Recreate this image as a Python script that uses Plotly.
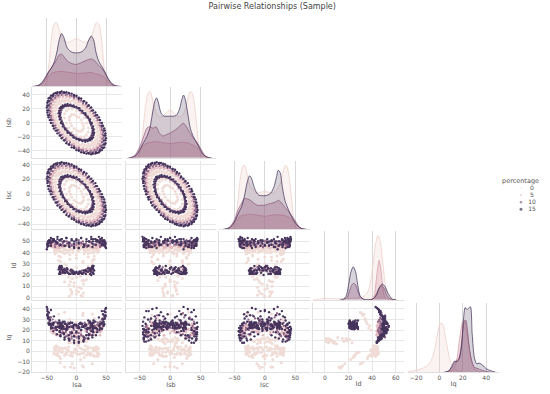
import plotly.graph_objects as go

TITLE = "Pairwise Relationships (Sample)"
VARIABLES = ["Isa", "Isb", "Isc", "Id", "Iq"]
PERCENTAGES = [0, 5, 10, 15]
LEGEND_LABELS = ["0", "5", "10", "15"]
X_TICKS = [[-50, 0, 50], [-50, 0, 50], [-50, 0, 50], [0, 20, 40, 60], [-20, 0, 20, 40]]
Y_TICKS = [[], [-40, -20, 0, 20, 40], [-40, -20, 0, 20, 40], [0, 10, 20, 30, 40, 50], [-20, -10, 0, 10, 20, 30, 40]]

# ---- scatter samples ----
P15_OUTER_A_ISA = [0,8,17,25,32,38,43,47,49,50,49,47,43,38,32,25,17,8,0,-8,-17,-25,-32,-38,-43,-47,-49,-50,-49,-47,-43,-38,-32,-25,-17,-8]
P15_OUTER_A_ISB = [-39,-42,-44,-45,-44,-42,-39,-35,-29,-22,-15,-8,0,8,15,22,29,35,39,42,44,45,44,42,39,35,29,22,15,8,0,-8,-15,-22,-29,-35]
P15_OUTER_A_ISC = [37,33,28,21,15,7,0,-7,-15,-21,-28,-33,-37,-40,-42,-43,-42,-40,-37,-33,-28,-21,-15,-7,0,7,15,21,28,33,37,40,42,43,42,40]
P15_OUTER_A_ID = [52,53,52,54,52,50,47,46,45,44,47,51,53,54,52,52,50,53,51,52,53,52,52,51,46,46,45,43,47,50,53,52,54,52,53,51]
P15_OUTER_A_IQ = [18,20,21,24,28,32,38,38,40,41,37,31,26,24,22,19,15,20,19,17,21,23,27,33,39,37,40,42,38,32,26,27,23,21,20,18]

P15_OUTER_B_ISA = [4,12,20,27,33,39,43,46,47,47,46,43,39,33,27,20,12,4,-4,-12,-20,-27,-33,-39,-43,-46,-47,-47,-46,-43,-39,-33,-27,-20,-12,-4]
P15_OUTER_B_ISB = [-39,-42,-43,-43,-42,-39,-35,-31,-25,-18,-11,-4,4,11,18,25,31,35,39,42,43,43,42,39,35,31,25,18,11,4,-4,-11,-18,-25,-31,-35]
P15_OUTER_B_ISC = [34,29,23,17,11,4,-4,-11,-17,-23,-29,-34,-37,-40,-41,-41,-40,-37,-34,-29,-23,-17,-11,-4,4,11,17,23,29,34,37,40,41,41,40,37]
P15_OUTER_B_ID = [44,45,46,45,47,49,48,50,50,49,50,51,49,50,48,46,45,44,44,46,46,47,48,50,49,50,49,50,51,49,50,49,47,46,45,45]
P15_OUTER_B_IQ = [9,9,12,13,15,20,21,24,25,26,28,27,25,22,15,12,10,8,8,10,11,14,16,19,22,25,26,27,26,24,25,20,15,13,11,10]

P15_OUTER_C_ISA = [4,13,21,28,35,40,45,48,49,49,48,45,40,35,28,21,13,4,-4,-13,-21,-28,-35,-40,-45,-48,-49,-49,-48,-45,-40,-35,-28,-21,-13,-4]
P15_OUTER_C_ISB = [-40,-43,-44,-44,-43,-40,-36,-31,-25,-18,-11,-4,4,11,18,25,31,36,40,43,44,44,43,40,36,31,25,18,11,4,-4,-11,-18,-25,-31,-36]
P15_OUTER_C_ISC = [34,30,24,18,11,4,-4,-11,-18,-24,-30,-34,-38,-41,-42,-42,-41,-38,-34,-30,-24,-18,-11,-4,4,11,18,24,30,34,38,41,42,42,41,38]
P15_OUTER_C_ID = [49,47,50,50,51,52,50,49,49,48,49,47,50,51,52,50,47,48,50,48,50,51,50,51,49,50,48,47,49,51,52,50,51,50,49,48]
P15_OUTER_C_IQ = [14,11,16,18,21,26,30,31,33,34,33,35,22,18,19,15,13,12,14,12,16,18,22,26,30,31,34,35,33,29,22,23,19,17,15,14]

P15_INNER_A_ISA = [0,5,10,15,19,23,26,28,29,30,29,28,26,23,19,15,10,5,0,-5,-10,-15,-19,-23,-26,-28,-29,-30,-29,-28,-26,-23,-19,-15,-10,-5]
P15_INNER_A_ISB = [-23,-25,-26,-27,-26,-25,-23,-21,-17,-14,-9,-5,0,5,9,14,17,21,23,25,26,27,26,25,23,21,17,14,9,5,0,-5,-9,-14,-17,-21]
P15_INNER_A_ISC = [23,20,17,13,9,4,0,-4,-9,-13,-17,-20,-23,-24,-25,-26,-25,-24,-23,-20,-17,-13,-9,-4,0,4,9,13,17,20,23,24,25,26,25,24]
P15_INNER_A_ID = [22,23,21,24,23,25,27,26,28,24,21,22,26,25,23,24,21,22,23,21,24,22,25,24,27,28,21,25,27,22,26,24,22,25,21,23]
P15_INNER_A_IQ = [25,22,26,24,21,28,25,23,29,22,27,24,25,27,22,25,23,26,24,22,27,25,21,28,26,22,29,23,27,24,25,21,26,23,27,24]

P15_INNER_B_ISA = [3,7,12,16,20,23,25,27,28,28,27,25,23,20,16,12,7,3,-3,-7,-12,-16,-20,-23,-25,-27,-28,-28,-27,-25,-23,-20,-16,-12,-7,-3]
P15_INNER_B_ISB = [-23,-24,-25,-25,-24,-23,-21,-18,-14,-11,-7,-2,2,7,11,14,18,21,23,24,25,25,24,23,21,18,14,11,7,2,-2,-7,-11,-14,-18,-21]
P15_INNER_B_ISC = [20,17,14,10,6,2,-2,-6,-10,-14,-17,-20,-22,-23,-24,-24,-23,-22,-20,-17,-14,-10,-6,-2,2,6,10,14,17,20,22,23,24,24,23,22]
P15_INNER_B_ID = [21,22,24,21,26,24,20,27,25,22,28,23,21,26,24,22,23,21,22,24,21,26,22,24,28,21,26,23,25,27,22,24,23,21,22,21]
P15_INNER_B_IQ = [24,27,23,25,29,22,26,24,21,27,23,26,28,22,25,24,26,22,25,27,23,22,26,24,21,27,24,22,25,26,23,28,24,26,23,25]

P10_OUTER_ISA = [0,8,16,23,29,35,40,43,45,46,45,43,40,35,29,23,16,8,0,-8,-16,-23,-29,-35,-40,-43,-45,-46,-45,-43,-40,-35,-29,-23,-16,-8]
P10_OUTER_ISB = [-37,-39,-41,-42,-41,-39,-37,-32,-27,-21,-14,-7,0,7,14,21,27,32,37,39,41,42,41,39,37,32,27,21,14,7,0,-7,-14,-21,-27,-32]
P10_OUTER_ISC = [35,31,26,20,14,7,0,-7,-14,-20,-26,-31,-35,-38,-39,-40,-39,-38,-35,-31,-26,-20,-14,-7,0,7,14,20,26,31,35,38,39,40,39,38]
P10_OUTER_ID = [47,49,48,50,47,49,50,46,48,51,47,49,48,50,47,49,46,48,49,47,50,48,46,49,50,47,51,48,49,47,50,48,47,49,48,46]
P10_OUTER_IQ = [13,16,15,20,18,25,22,30,24,34,28,26,24,20,18,16,12,15,17,14,20,18,22,28,24,32,26,36,30,24,25,22,19,17,14,12]

P10_OUTER_B_ISA = [4,11,18,25,31,36,40,43,44,44,43,40,36,31,25,18,11,4,-4,-11,-18,-25,-31,-36,-40,-43,-44,-44,-43,-40,-36,-31,-25,-18,-11,-4]
P10_OUTER_B_ISB = [-36,-39,-40,-40,-39,-36,-33,-28,-23,-17,-10,-4,4,10,17,23,28,33,36,39,40,40,39,36,33,28,23,17,10,4,-4,-10,-17,-23,-28,-33]
P10_OUTER_B_ISC = [31,27,22,16,10,3,-3,-10,-16,-22,-27,-31,-35,-37,-38,-38,-37,-35,-31,-27,-22,-16,-10,-3,3,10,16,22,27,31,35,37,38,38,37,35]
P10_OUTER_B_ID = [48,50,46,49,47,51,45,49,47,50,48,46,50,47,49,45,48,51,47,49,46,50,48,45,49,47,50,46,48,51,47,49,46,50,48,47]
P10_OUTER_B_IQ = [17,14,18,23,24,19,28,27,31,22,30,22,27,24,15,19,14,13,20,16,18,22,26,20,30,26,32,29,21,27,22,25,17,14,18,15]

P10_INNER_ISA = [0,5,9,14,17,21,23,25,26,27,26,25,23,21,17,14,9,5,0,-5,-9,-14,-17,-21,-23,-25,-26,-27,-26,-25,-23,-21,-17,-14,-9,-5]
P10_INNER_ISB = [-21,-23,-24,-24,-24,-23,-21,-18,-15,-12,-8,-4,0,4,8,12,15,18,21,23,24,24,24,23,21,18,15,12,8,4,0,-4,-8,-12,-15,-18]
P10_INNER_ISC = [20,18,15,12,8,4,0,-4,-8,-12,-15,-18,-20,-22,-23,-23,-23,-22,-20,-18,-15,-12,-8,-4,0,4,8,12,15,18,20,22,23,23,23,22]
P10_INNER_ID = [22,23,22,24,25,23,26,25,24,27,25,22,26,24,23,22,24,21,22,23,25,22,24,26,25,27,24,23,26,22,25,23,24,22,23,21]
P10_INNER_IQ = [24,26,23,22,25,27,24,21,26,24,23,25,22,26,24,27,25,23,22,25,24,21,26,23,27,24,22,25,23,26,24,22,25,27,23,24]

P5_ISA = [0,7,15,22,28,33,37,40,42,43,42,40,37,33,28,22,15,7,0,-7,-15,-22,-28,-33,-37,-40,-42,-43,-42,-40,-37,-33,-28,-22,-15,-7]
P5_ISB = [-34,-37,-38,-39,-38,-37,-34,-30,-25,-20,-13,-7,0,7,13,20,25,30,34,37,38,39,38,37,34,30,25,20,13,7,0,-7,-13,-20,-25,-30]
P5_ISC = [32,28,24,19,13,6,0,-6,-13,-19,-24,-28,-32,-35,-36,-37,-36,-35,-32,-28,-24,-19,-13,-6,0,6,13,19,24,28,32,35,36,37,36,35]
P5_ID = [46,47,45,46,47,45,46,47,46,48,46,45,47,46,45,46,47,46,45,46,47,46,45,48,47,46,45,46,47,46,45,46,47,45,46,47]
P5_IQ = [15,18,22,17,20,24,21,25,19,23,26,20,24,18,21,16,19,14,17,20,15,22,18,24,20,26,22,19,25,21,17,23,19,21,16,18]

P5_B_ISA = [4,11,17,23,29,34,37,40,41,41,40,37,34,29,23,17,11,4,-4,-11,-17,-23,-29,-34,-37,-40,-41,-41,-40,-37,-34,-29,-23,-17,-11,-4]
P5_B_ISB = [-34,-36,-37,-37,-36,-34,-30,-26,-21,-16,-10,-3,3,10,16,21,26,30,34,36,37,37,36,34,30,26,21,16,10,3,-3,-10,-16,-21,-26,-30]
P5_B_ISC = [29,25,20,15,9,3,-3,-9,-15,-20,-25,-29,-32,-34,-35,-35,-34,-32,-29,-25,-20,-15,-9,-3,3,9,15,20,25,29,32,34,35,35,34,32]
P5_B_ID = [45,46,47,45,44,46,47,45,46,47,45,46,44,47,46,45,47,46,44,45,47,46,45,44,46,47,46,45,47,45,46,44,47,46,45,46]
P5_B_IQ = [22,14,19,24,16,21,27,18,25,20,15,23,19,26,17,22,14,20,24,16,23,19,26,15,21,18,25,22,17,27,20,15,24,19,22,17]

P0_OUTER_ISA = [0,6,13,19,24,29,33,36,37,38,37,36,33,29,24,19,13,6,0,-6,-13,-19,-24,-29,-33,-36,-37,-38,-37,-36,-33,-29,-24,-19,-13,-6]
P0_OUTER_ISB = [-30,-32,-33,-34,-33,-32,-30,-26,-22,-17,-12,-6,0,6,12,17,22,26,30,32,33,34,33,32,30,26,22,17,12,6,0,-6,-12,-17,-22,-26]
P0_OUTER_ISC = [28,25,20,16,11,5,0,-5,-11,-16,-20,-25,-28,-30,-31,-32,-31,-30,-28,-25,-20,-16,-11,-5,0,5,11,16,20,25,28,30,31,32,31,30]
P0_OUTER_ID = [44,43,42,44,40,43,44,41,43,42,44,40,43,41,44,42,39,43,44,42,41,43,40,44,42,43,41,44,42,39,43,44,41,43,42,40]
P0_OUTER_IQ = [0,3,-2,2,-4,1,4,-1,3,-3,2,-5,0,3,-2,4,1,-3,2,-1,4,-3,1,3,-4,0,2,-2,4,1,-3,2,-1,3,0,-2]

P0_B_ISA = [3,9,15,20,25,29,32,34,35,35,34,32,29,25,20,15,9,3,-3,-9,-15,-20,-25,-29,-32,-34,-35,-35,-34,-32,-29,-25,-20,-15,-9,-3]
P0_B_ISB = [-29,-31,-32,-32,-31,-29,-26,-23,-18,-13,-8,-3,3,8,13,18,23,26,29,31,32,32,31,29,26,23,18,13,8,3,-3,-8,-13,-18,-23,-26]
P0_B_ISC = [25,21,17,13,8,3,-3,-8,-13,-17,-21,-25,-27,-29,-30,-30,-29,-27,-25,-21,-17,-13,-8,-3,3,8,13,17,21,25,27,29,30,30,29,27]
P0_B_ID = [42,44,41,45,43,40,44,42,45,41,43,44,40,45,42,43,44,41,45,43,42,44,41,43,45,40,44,42,43,45,41,44,42,40,43,44]
P0_B_IQ = [-3,2,5,-1,3,-4,1,4,-2,2,-5,3,0,-3,4,1,-2,5,0,-4,2,3,-1,-5,4,1,-3,2,5,-2,0,3,-4,1,-1,2]

P0_SMALL_ISA = [0,4,8,10,12,12,10,8,4,0,-4,-8,-10,-12,-12,-10,-8,-4]
P0_SMALL_ISB = [-10,-12,-12,-10,-8,-4,0,4,8,10,12,12,10,8,4,0,-4,-8]
P0_SMALL_ISC = [10,8,4,0,-4,-8,-10,-12,-12,-10,-8,-4,0,4,8,10,12,12]
P0_SMALL_ID = [3,5,8,1,12,4,15,2,9,6,13,3,7,11,1,14,5,10]
P0_SMALL_IQ = [8,10,9,12,-15,9,-14,11,7,10,-16,12,8,13,9,-15,11,7]

P0_MID_ISA = [0,7,13,17,20,20,17,13,7,0,-7,-13,-17,-20,-20,-17,-13,-7]
P0_MID_ISB = [-17,-20,-20,-17,-13,-7,0,7,13,17,20,20,17,13,7,0,-7,-13]
P0_MID_ISC = [17,13,7,0,-7,-13,-17,-20,-20,-17,-13,-7,0,7,13,17,20,20]
P0_MID_ID = [18,22,15,25,20,28,16,24,19,27,17,23,26,21,14,29,18,25]
P0_MID_IQ = [10,-8,12,-4,11,-1,9,-6,10,-2,-12,8,-3,11,-15,-1,12,-5]

P0_WIDE_ISA = [0,11,20,27,30,30,27,20,11,0,-11,-20,-27,-30,-30,-27,-20,-11]
P0_WIDE_ISB = [-27,-30,-30,-27,-20,-11,0,11,20,27,30,30,27,20,11,0,-11,-20]
P0_WIDE_ISC = [27,20,11,0,-11,-20,-27,-30,-30,-27,-20,-11,0,11,20,27,30,30]
P0_WIDE_ID = [38,32,36,30,34,37,33,39,31,35,38,30,36,33,37,32,39,34]
P0_WIDE_IQ = [24,34,26,-12,31,-5,35,-3,36,28,-4,37,-7,35,22,-11,20,30]

# ---- density curves (share of panel height) ----
ISA_P0_X = [-62,-54,-50,-46,-42,-38,-34,-30,-26,-20,-14,-7,0,7,14,20,26,30,34,38,42,46,50,54,62]
ISA_P0_Y = [0,.01,.08,.35,.72,.9,.93,.86,.74,.66,.64,.67,.7,.67,.64,.66,.74,.86,.93,.9,.72,.35,.08,.01,0]
ISA_P5_X = [-66,-58,-50,-42,-34,-26,-18,-9,0,9,18,26,34,42,50,58,66]
ISA_P5_Y = [0,.03,.12,.19,.21,.22,.21,.2,.19,.19,.2,.2,.18,.16,.11,.03,0]
ISA_P10_X = [-70,-62,-54,-46,-40,-34,-29,-25,-20,-14,-7,0,7,14,20,25,30,36,42,48,54,62,70]
ISA_P10_Y = [0,.02,.09,.22,.3,.38,.46,.47,.42,.36,.33,.32,.34,.37,.39,.4,.38,.32,.27,.2,.1,.02,0]
ISA_P15_X = [-74,-66,-60,-54,-48,-43,-38,-33,-29,-25,-21,-16,-10,-4,0,4,10,16,20,25,29,33,38,43,48,54,60,66,74]
ISA_P15_Y = [0,.01,.04,.11,.2,.26,.34,.5,.68,.77,.71,.57,.51,.49,.49,.49,.51,.57,.66,.735,.68,.5,.36,.29,.21,.11,.04,.01,0]

ISB_P0_X = [-60,-52,-48,-44,-40,-36,-33,-30,-26,-20,-14,-7,0,7,14,20,26,30,33,36,40,44,48,52,60]
ISB_P0_Y = [0,.01,.1,.42,.75,.92,.94,.88,.72,.6,.58,.63,.68,.63,.58,.6,.72,.88,.94,.92,.75,.42,.1,.01,0]
ISB_P5_X = [-64,-56,-48,-40,-32,-24,-16,-8,0,8,16,24,32,40,48,56,64]
ISB_P5_Y = [0,.03,.13,.2,.22,.23,.22,.21,.2,.21,.22,.22,.2,.17,.11,.03,0]
ISB_P10_X = [-66,-58,-50,-44,-38,-33,-28,-23,-18,-12,-6,0,6,12,18,22,26,32,38,44,50,58,66]
ISB_P10_Y = [0,.03,.15,.28,.42,.44,.42,.44,.36,.31,.33,.35,.38,.42,.47,.49,.45,.36,.28,.22,.13,.02,0]
ISB_P15_X = [-68,-60,-54,-48,-43,-38,-33,-29,-25,-22,-19,-15,-10,-5,0,5,10,15,19,22,25,29,33,38,43,48,54,60,68]
ISB_P15_Y = [0,.01,.05,.14,.22,.3,.42,.62,.8,.85,.78,.64,.59,.59,.59,.59,.6,.68,.82,.89,.82,.62,.42,.3,.22,.14,.05,.01,0]

ISC_P0_X = [-60,-52,-48,-44,-40,-36,-33,-30,-26,-20,-14,-7,0,7,14,20,26,30,33,36,40,44,48,52,60]
ISC_P0_Y = [0,.01,.1,.42,.75,.92,.93,.85,.68,.58,.53,.54,.55,.54,.53,.58,.68,.85,.93,.92,.75,.42,.1,.01,0]
ISC_P5_X = [-64,-56,-48,-40,-32,-24,-16,-8,0,8,16,24,32,40,48,56,64]
ISC_P5_Y = [0,.03,.12,.19,.21,.22,.21,.2,.19,.2,.21,.21,.2,.17,.11,.03,0]
ISC_P10_X = [-66,-58,-50,-44,-38,-33,-28,-23,-18,-12,-6,0,6,12,18,22,26,32,38,44,50,58,66]
ISC_P10_Y = [0,.03,.13,.28,.38,.45,.44,.42,.38,.35,.35,.35,.37,.38,.4,.42,.4,.33,.27,.2,.12,.02,0]
ISC_P15_X = [-68,-60,-54,-48,-43,-38,-33,-29,-25,-22,-19,-15,-10,-5,0,5,10,15,19,22,25,29,33,38,43,48,54,60,68]
ISC_P15_Y = [0,.01,.05,.14,.24,.33,.5,.68,.78,.75,.66,.56,.5,.49,.49,.5,.53,.62,.76,.86,.83,.6,.42,.3,.2,.12,.05,.01,0]

ID_P0_X = [-10,-4,2,8,16,24,30,34,37,39,41,43,45,47,49,51,53,55,58,62]
ID_P0_Y = [0,.01,.02,.015,.015,.02,.03,.06,.14,.3,.55,.82,.94,.84,.55,.25,.08,.02,.005,0]
ID_P5_X = [36,40,42,43.5,45,46,47,48.5,50,52,55,60]
ID_P5_Y = [0,.01,.07,.28,.5,.575,.5,.28,.08,.01,0,0]
ID_P10_X = [14,17,19,21,23,24.5,26,28,30,33,37,40,42,44,46,48,50,52,54,57,60]
ID_P10_Y = [0,.01,.04,.13,.22,.24,.22,.12,.04,.005,0,.005,.03,.1,.17,.2,.17,.08,.025,.003,0]
ID_P15_X = [13,16,18,20,22,24,26,28,30,33,37,40,42,44,46,48.5,51,53,55,57,60]
ID_P15_Y = [0,.01,.05,.2,.4,.48,.41,.2,.05,.005,0,.005,.03,.08,.17,.23,.19,.11,.05,.01,0]

IQ_P0_X = [-27,-22,-18,-14,-10,-7,-4,-2,0,1.5,3,5,7,9,12,15,20]
IQ_P0_Y = [.005,.02,.035,.06,.1,.17,.34,.52,.68,.71,.68,.52,.33,.17,.06,.02,0]
IQ_P5_X = [8,11,13,15,17,18.5,20,21.5,23,25,27,29,31,35,40]
IQ_P5_Y = [0,.03,.08,.2,.45,.62,.73,.74,.62,.4,.2,.08,.03,.005,0]
IQ_P10_X = [6,9,12,14,16,18,19.5,21,22.5,24,26,28,30,33,36,40,44]
IQ_P10_Y = [0,.03,.11,.16,.18,.3,.52,.72,.75,.6,.3,.14,.07,.05,.03,.01,0]
IQ_P15_X = [4,8,11,13,15,17,19,20.5,22,23.5,25,26.5,28,30,32,34,37,40,44,48]
IQ_P15_Y = [0,.02,.1,.16,.15,.2,.4,.75,.93,.9,.92,.94,.55,.2,.12,.13,.1,.05,.02,0]

# ---- assembling and styling ----
SCATTER = [
    (0, [P0_SMALL_ISA, P0_SMALL_ISB, P0_SMALL_ISC, P0_SMALL_ID, P0_SMALL_IQ]),
    (0, [P0_MID_ISA, P0_MID_ISB, P0_MID_ISC, P0_MID_ID, P0_MID_IQ]),
    (0, [P0_WIDE_ISA, P0_WIDE_ISB, P0_WIDE_ISC, P0_WIDE_ID, P0_WIDE_IQ]),
    (0, [P0_OUTER_ISA, P0_OUTER_ISB, P0_OUTER_ISC, P0_OUTER_ID, P0_OUTER_IQ]),
    (0, [P0_B_ISA, P0_B_ISB, P0_B_ISC, P0_B_ID, P0_B_IQ]),
    (1, [P5_ISA, P5_ISB, P5_ISC, P5_ID, P5_IQ]),
    (1, [P5_B_ISA, P5_B_ISB, P5_B_ISC, P5_B_ID, P5_B_IQ]),
    (2, [P10_INNER_ISA, P10_INNER_ISB, P10_INNER_ISC, P10_INNER_ID, P10_INNER_IQ]),
    (2, [P10_OUTER_ISA, P10_OUTER_ISB, P10_OUTER_ISC, P10_OUTER_ID, P10_OUTER_IQ]),
    (2, [P10_OUTER_B_ISA, P10_OUTER_B_ISB, P10_OUTER_B_ISC, P10_OUTER_B_ID, P10_OUTER_B_IQ]),
    (3, [P15_INNER_A_ISA, P15_INNER_A_ISB, P15_INNER_A_ISC, P15_INNER_A_ID, P15_INNER_A_IQ]),
    (3, [P15_INNER_B_ISA, P15_INNER_B_ISB, P15_INNER_B_ISC, P15_INNER_B_ID, P15_INNER_B_IQ]),
    (3, [P15_OUTER_A_ISA, P15_OUTER_A_ISB, P15_OUTER_A_ISC, P15_OUTER_A_ID, P15_OUTER_A_IQ]),
    (3, [P15_OUTER_B_ISA, P15_OUTER_B_ISB, P15_OUTER_B_ISC, P15_OUTER_B_ID, P15_OUTER_B_IQ]),
    (3, [P15_OUTER_C_ISA, P15_OUTER_C_ISB, P15_OUTER_C_ISC, P15_OUTER_C_ID, P15_OUTER_C_IQ]),
]
DENSITY = [
    [(ISA_P0_X, ISA_P0_Y), (ISA_P5_X, ISA_P5_Y), (ISA_P10_X, ISA_P10_Y), (ISA_P15_X, ISA_P15_Y)],
    [(ISB_P0_X, ISB_P0_Y), (ISB_P5_X, ISB_P5_Y), (ISB_P10_X, ISB_P10_Y), (ISB_P15_X, ISB_P15_Y)],
    [(ISC_P0_X, ISC_P0_Y), (ISC_P5_X, ISC_P5_Y), (ISC_P10_X, ISC_P10_Y), (ISC_P15_X, ISC_P15_Y)],
    [(ID_P0_X, ID_P0_Y), (ID_P5_X, ID_P5_Y), (ID_P10_X, ID_P10_Y), (ID_P15_X, ID_P15_Y)],
    [(IQ_P0_X, IQ_P0_Y), (IQ_P5_X, IQ_P5_Y), (IQ_P10_X, IQ_P10_Y), (IQ_P15_X, IQ_P15_Y)],
]

W, H = 550, 394
FONT = "DejaVu Sans"
TEXT = "#555555"
GRID = "#e8e8e8"
COLORS = ["#f0dcd7", "#e2bcc0", "#8f6488", "#46345c"]
MARKER_SIZES = [3.0, 2.6, 2.2, 2.4]
FILLS = ["rgba(237,209,203,0.25)", "rgba(217,160,172,0.35)", "rgba(170,100,135,0.30)", "rgba(60,42,82,0.20)"]
LINES = ["rgba(237,209,203,0.8)", "rgba(217,160,172,0.8)", "rgba(150,95,130,0.7)", "rgba(60,42,82,0.7)"]
COL_PX = [(32, 122), (126, 216), (219, 310), (313, 404), (408, 499)]
ROW_PX = [(18, 87), (88, 159), (162, 231), (233, 302), (305, 375)]
X_RANGE = [[-75, 77], [-72, 75], [-75, 74], [-10, 67], [-27, 51]]
Y_RANGE = [[0, 1], [-50, 51], [-47, 45], [-2, 59], [-20, 46]]

fig = go.Figure()
layout = {}
idx = 0


def add_axes(r, c):
    global idx
    idx += 1
    x0, x1 = COL_PX[c]
    y0, y1 = ROW_PX[r]
    on_diag = r == c
    bottom = r == 4
    left = c == 0 and r > 0
    layout[f"xaxis{idx}"] = dict(
        domain=[x0 / W, x1 / W], range=X_RANGE[c], anchor=f"y{idx}", tickvals=X_TICKS[c],
        showticklabels=bottom, showgrid=True, gridcolor="#d8d8d8" if on_diag else GRID, gridwidth=1,
        zeroline=False, showline=True, linecolor="#e0e0e0", linewidth=1, ticks="",
        tickfont=dict(family=FONT, size=6, color=TEXT),
        title=dict(text=VARIABLES[c] if bottom else "", font=dict(family=FONT, size=6.5, color=TEXT), standoff=1),
    )
    layout[f"yaxis{idx}"] = dict(
        domain=[1 - y1 / H, 1 - y0 / H], range=[0, 1] if on_diag else Y_RANGE[r], anchor=f"x{idx}",
        tickvals=[] if on_diag else Y_TICKS[r], showticklabels=left, showgrid=not on_diag, gridcolor=GRID,
        zeroline=False, showline=not on_diag, linecolor="#e0e0e0", linewidth=1, ticks="",
        tickfont=dict(family=FONT, size=6, color=TEXT),
        title=dict(text=VARIABLES[r] if left else "", font=dict(family=FONT, size=6.5, color=TEXT), standoff=4),
    )
    return f"x{idx}", f"y{idx}"


for r in range(5):
    for c in range(r + 1):
        xa, ya = add_axes(r, c)
        if r == c:
            for lvl, (xs, ys) in enumerate(DENSITY[c]):
                fig.add_trace(go.Scatter(
                    x=xs, y=ys, xaxis=xa, yaxis=ya, mode="lines", fill="tozeroy", fillcolor=FILLS[lvl],
                    line=dict(color=LINES[lvl], width=1, shape="spline", smoothing=0.8),
                    name=str(PERCENTAGES[lvl]), showlegend=False, hoverinfo="skip"))
        else:
            for lvl, cols in SCATTER:
                fig.add_trace(go.Scatter(
                    x=cols[c], y=cols[r], xaxis=xa, yaxis=ya, mode="markers",
                    marker=dict(color=COLORS[lvl], size=MARKER_SIZES[lvl], line=dict(width=0)),
                    name=str(PERCENTAGES[lvl]), showlegend=False, hoverinfo="skip"))

# legend built as a small hidden axis so rows can sit as tightly as in the reference
idx += 1
layout[f"xaxis{idx}"] = dict(domain=[505 / W, 545 / W], range=[0, 40], visible=False, anchor=f"y{idx}", fixedrange=True)
layout[f"yaxis{idx}"] = dict(domain=[1 - 215 / H, 1 - 186 / H], range=[-0.6, 3.5], visible=False, anchor=f"x{idx}", fixedrange=True)
LEGEND_ROWS = [3, 2, 1, 0]
fig.add_trace(go.Scatter(
    x=[16, 16, 16, 16], y=LEGEND_ROWS, xaxis=f"x{idx}", yaxis=f"y{idx}", mode="markers",
    marker=dict(color=COLORS, size=[1.5, 2, 2.5, 3], line=dict(width=0)), showlegend=False, hoverinfo="skip"))
fig.add_trace(go.Scatter(
    x=[27, 27, 27, 27], y=LEGEND_ROWS, xaxis=f"x{idx}", yaxis=f"y{idx}", mode="text",
    text=LEGEND_LABELS, textposition="middle center", textfont=dict(family=FONT, size=6, color=TEXT),
    showlegend=False, hoverinfo="skip"))

fig.update_layout(
    width=W, height=H, margin=dict(l=0, r=0, t=0, b=0), plot_bgcolor="white", paper_bgcolor="white",
    showlegend=False,
    title=dict(text=TITLE, x=0.495, xanchor="center", y=1 - 6.5 / H, yanchor="middle",
               font=dict(family=FONT, size=8, color="#444444")),
    annotations=[dict(text="percentage", x=520 / W, y=1 - 182 / H, xref="paper", yref="paper", showarrow=False,
                      xanchor="center", yanchor="middle", font=dict(family=FONT, size=6.5, color=TEXT))],
    **layout,
)
fig.write_html("out.html", post_script="document.body.style.margin='0';", config={"displayModeBar": False})
